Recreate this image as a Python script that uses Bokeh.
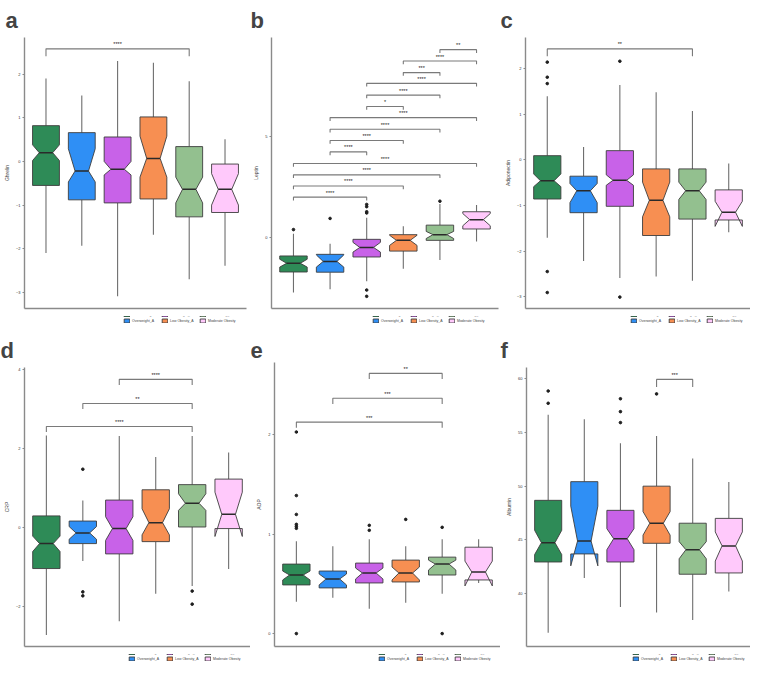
from bokeh.plotting import figure
from bokeh.models import ColumnDataSource, Range1d, FixedTicker, Legend, LegendItem
from bokeh.layouts import column, row
from bokeh.embed import file_html
from bokeh.resources import INLINE
from bokeh.core.properties import value

# ---------------- data ----------------
CLUSTERS = ["Normal weight", "Overweight_A", "Overweight_B",
            "Low Obesity_A", "Low Obesity_B", "Moderate Obesity"]
COLORS = ["#2e8b57", "#2f8ff5", "#c862e8", "#f78f52", "#93c08f", "#ffc9fb"]
LEGEND_TITLE = "CLUSTER"

ghrelin_upper = [1.90, 1.51, 2.30, 2.26, 1.84, 0.51]
ghrelin_q3 = [0.82, 0.66, 0.56, 1.02, 0.34, -0.06]
ghrelin_median = [0.20, -0.22, -0.18, 0.07, -0.64, -0.64]
ghrelin_q1 = [-0.55, -0.88, -0.95, -0.86, -1.27, -1.17]
ghrelin_lower = [-2.10, -1.93, -3.09, -1.68, -2.70, -2.39]
ghrelin_notch_hi = [0.38, 0.29, 0.00, 0.58, -0.36, -0.28]
ghrelin_notch_lo = [0.02, -0.47, -0.31, -0.36, -0.95, -1.00]
ghrelin_out_x = []
ghrelin_out_y = []
ghrelin_pairs = [(1, 5)]
ghrelin_sig_y = [2.58]
ghrelin_sig = ["****"]

leptin_upper = [0.19, -0.31, 0.97, 0.55, 1.65, 1.60]
leptin_q3 = [-0.91, -0.83, -0.09, 0.14, 0.61, 1.27]
leptin_median = [-1.27, -1.18, -0.49, -0.14, 0.14, 0.88]
leptin_q1 = [-1.70, -1.71, -0.96, -0.67, -0.14, 0.42]
leptin_lower = [-2.71, -2.55, -2.16, -1.54, -1.11, -0.20]
leptin_notch_hi = [-1.07, -0.86, -0.24, 0.11, 0.30, 1.18]
leptin_notch_lo = [-1.46, -1.46, -0.72, -0.39, -0.05, 0.58]
leptin_out_x = [1, 2, 3, 3, 3, 3, 3, 3, 5]
leptin_out_y = [0.39, 0.94, 1.63, 1.52, 1.27, 1.21, -2.59, -2.90, 1.79]
leptin_pairs = [(1, 3), (1, 4), (1, 5), (1, 6), (2, 3), (2, 4), (2, 5), (2, 6),
                (3, 4), (3, 5), (3, 6), (4, 5), (4, 6), (5, 6)]
leptin_sig_y = [1.99, 2.54, 3.09, 3.65, 4.22, 4.78, 5.34, 5.91,
                6.46, 7.02, 7.60, 8.13, 8.70, 9.26]
leptin_sig = ["****"] * 8 + ["*", "****", "****", "***", "****", "**"]

adipo_upper = [1.39, 0.28, 1.64, 1.48, 1.07, -0.08]
adipo_q3 = [0.09, -0.36, 0.20, -0.20, -0.20, -0.66]
adipo_median = [-0.46, -0.68, -0.45, -0.89, -0.68, -1.15]
adipo_q1 = [-0.86, -1.16, -1.02, -1.66, -1.30, -1.32]
adipo_lower = [-1.71, -2.22, -2.59, -2.56, -2.65, -1.59]
adipo_notch_hi = [-0.31, -0.52, -0.33, -0.49, -0.49, -0.91]
adipo_notch_lo = [-0.59, -0.94, -0.56, -1.25, -0.87, -1.46]
adipo_out_x = [1, 1, 1, 1, 1, 3, 3]
adipo_out_y = [2.14, 1.81, 1.67, -2.45, -2.91, 2.16, -3.01]
adipo_pairs = [(1, 5)]
adipo_sig_y = [2.43]
adipo_sig = ["**"]

crp_upper = [2.32, 0.68, 2.31, 1.78, 2.31, 1.89]
crp_q3 = [0.29, 0.16, 0.69, 0.95, 1.08, 1.22]
crp_median = [-0.41, -0.14, -0.03, 0.12, 0.61, 0.33]
crp_q1 = [-1.04, -0.41, -0.67, -0.36, 0.01, -0.03]
crp_lower = [-2.72, -0.85, -2.37, -1.68, -1.48, -1.05]
crp_notch_hi = [-0.22, 0.02, 0.27, 0.47, 0.85, 0.89]
crp_notch_lo = [-0.61, -0.30, -0.33, -0.19, 0.43, -0.23]
crp_out_x = [2, 2, 2, 5, 5]
crp_out_y = [1.47, -1.63, -1.73, -1.61, -1.94]
crp_pairs = [(1, 5), (2, 5), (3, 5)]
crp_sig_y = [2.55, 3.13, 3.74]
crp_sig = ["****", "**", "****"]

aop_upper = [0.93, 0.88, 0.95, 0.88, 0.95, 0.95]
aop_q3 = [0.70, 0.63, 0.71, 0.74, 0.77, 0.87]
aop_median = [0.59, 0.55, 0.61, 0.61, 0.70, 0.62]
aop_q1 = [0.49, 0.46, 0.51, 0.52, 0.59, 0.54]
aop_lower = [0.32, 0.36, 0.25, 0.31, 0.40, 0.51]
aop_notch_hi = [0.63, 0.60, 0.66, 0.67, 0.74, 0.73]
aop_notch_lo = [0.54, 0.49, 0.55, 0.54, 0.64, 0.48]
aop_out_x = [1, 1, 1, 1, 1, 1, 1, 3, 3, 4, 5, 5]
aop_out_y = [2.03, 1.39, 1.20, 1.10, 1.08, 1.06, 0.0, 1.09, 1.04, 1.15, 1.07, 0.0]
aop_pairs = [(1, 5), (2, 5), (3, 5)]
aop_sig_y = [2.13, 2.37, 2.62]
aop_sig = ["***", "***", "**"]

alb_upper = [56.64, 56.22, 53.99, 54.68, 52.58, 50.39]
alb_q3 = [48.68, 50.42, 47.75, 50.00, 46.55, 47.00]
alb_median = [44.74, 44.89, 45.11, 46.55, 44.08, 44.44]
alb_q1 = [42.94, 43.69, 42.94, 44.68, 41.80, 41.92]
alb_lower = [36.34, 41.44, 38.74, 38.23, 37.54, 40.18]
alb_notch_hi = [45.89, 48.14, 46.04, 47.63, 44.83, 45.74]
alb_notch_lo = [43.63, 42.58, 44.08, 45.44, 43.24, 43.03]
alb_out_x = [1, 1, 3, 3, 3, 4]
alb_out_y = [58.86, 57.72, 58.14, 56.94, 55.92, 58.59]
alb_pairs = [(4, 5)]
alb_sig_y = [59.94]
alb_sig = ["***"]

FONT = "Liberation Sans"
AXIS_GRAY = "#8a8a8a"
LEG_H = 14


def panel(letter, ylabel, upper, q3, med, q1, lower, nhi, nlo, out_x, out_y,
          pairs, sig_y, sig_lab, yr, yticks, tip_frac,
          width, height, left, right, top):
    p = figure(width=width, height=height - LEG_H, x_range=Range1d(0.4, 6.6),
               y_range=Range1d(yr[0], yr[1]), output_backend="svg",
               toolbar_location=None, min_border_left=left, min_border_right=right,
               min_border_top=top, min_border_bottom=8,
               outline_line_color=None)
    p.xgrid.visible = False
    p.ygrid.visible = False

    w = 0.75
    xs, ys, xc = [], [], []
    for i in range(len(CLUSTERS)):
        x = i + 1
        xc.append(x)
        xl, xr = x - w / 2, x + w / 2
        nl, nr = x - w / 4, x + w / 4
        xs.append([xl, xl, nl, xl, xl, xr, xr, nr, xr, xr])
        ys.append([q3[i], nhi[i], med[i], nlo[i], q1[i], q1[i], nlo[i], med[i], nhi[i], q3[i]])

    src = ColumnDataSource(dict(xs=xs, ys=ys, x=xc, upper=upper, q3=q3, q1=q1,
                                lower=lower, med=med,
                                ml=[x - w / 4 for x in xc], mr=[x + w / 4 for x in xc],
                                color=COLORS))
    p.segment(x0="x", y0="q3", x1="x", y1="upper", source=src,
              line_color="#6e6e6e", line_width=1.1)
    p.segment(x0="x", y0="q1", x1="x", y1="lower", source=src,
              line_color="#6e6e6e", line_width=1.1)
    p.patches(xs="xs", ys="ys", source=src, fill_color="color",
              line_color="#3d3d3d", line_width=0.9)
    p.segment(x0="ml", y0="med", x1="mr", y1="med", source=src,
              line_color="#2a2a2a", line_width=1.5)
    if out_x:
        p.scatter(x=out_x, y=out_y, size=2.6, color="#1e1e1e")

    tip = tip_frac * (yr[1] - yr[0])
    bx = [[a, a, b, b] for a, b in pairs]
    by = [[y - tip, y, y, y - tip] for y in sig_y]
    p.multi_line(xs=bx, ys=by, line_color="#7a7a7a", line_width=1.1)
    p.text(x=[(a + b) / 2 for a, b in pairs], y=sig_y, text=sig_lab,
           text_font=value(FONT), text_font_size="5.5px", text_align="center",
           text_baseline="bottom", y_offset=-1.5, text_color="#222222")

    p.yaxis.ticker = FixedTicker(ticks=yticks)
    p.yaxis.axis_label = ylabel
    p.yaxis.axis_label_text_font_size = "5px"
    p.yaxis.axis_label_text_font_style = "normal"
    p.yaxis.axis_label_standoff = 3
    p.yaxis.major_label_text_font_size = "4px"
    p.yaxis.major_label_text_color = "#333333"
    p.yaxis.major_label_standoff = 2
    p.yaxis.major_tick_out = 2
    p.yaxis.major_tick_in = 0
    p.yaxis.minor_tick_line_color = None
    p.yaxis.major_tick_line_color = AXIS_GRAY
    p.yaxis.axis_line_color = AXIS_GRAY
    p.yaxis.axis_line_width = 1.4

    p.xaxis.ticker = FixedTicker(ticks=[1, 2, 3, 4, 5, 6])
    p.xaxis.major_label_overrides = {i: " " for i in range(1, 7)}
    p.xaxis.major_label_text_font_size = "4px"
    p.xaxis.major_label_standoff = 0
    p.xaxis.major_tick_out = 0
    p.xaxis.major_tick_line_color = None
    p.xaxis.minor_tick_line_color = None
    p.xaxis.axis_line_color = AXIS_GRAY
    p.xaxis.axis_line_width = 1.4

    p.title.text = letter
    p.title.text_font_size = "22px"
    p.title.text_font_style = "bold"
    p.title.align = "left"
    p.title.offset = -left

    # legend strip under the panel (its own small figure, glyphs kept out of view)
    lf = figure(width=width, height=LEG_H, x_range=Range1d(100, 101),
                y_range=Range1d(100, 101), x_axis_type=None, y_axis_type=None,
                output_backend="svg", toolbar_location=None, min_border=0,
                outline_line_color=None)
    lboxes = lf.patches(xs="xs", ys="ys", source=src, fill_color="color",
                        line_color="#3d3d3d", line_width=0.9)
    dummy = lf.scatter(x=[], y=[], size=1, fill_alpha=0, line_alpha=0)
    order1 = [0, 2, 4]
    order2 = [1, 3, 5]
    items1 = [LegendItem(label=LEGEND_TITLE, renderers=[dummy])] + \
             [LegendItem(label=CLUSTERS[i], renderers=[lboxes], index=i) for i in order1]
    items2 = [LegendItem(label=" ", renderers=[dummy])] + \
             [LegendItem(label=CLUSTERS[i], renderers=[lboxes], index=i) for i in order2]
    common = dict(orientation="horizontal",
                  label_text_font_size="3.5px",
                  glyph_width=7, glyph_height=5, label_height=5, label_width=28,
                  label_standoff=2, spacing=1, padding=0, margin=0,
                  border_line_color=None, background_fill_alpha=0)
    lx = left + 42
    lf.add_layout(Legend(items=items1, location=(lx, 13), **common))
    lf.add_layout(Legend(items=items2, location=(lx, 7), **common))
    return column(p, lf)


pa = panel("a", "Ghrelin", ghrelin_upper, ghrelin_q3, ghrelin_median, ghrelin_q1,
           ghrelin_lower, ghrelin_notch_hi, ghrelin_notch_lo, ghrelin_out_x, ghrelin_out_y,
           ghrelin_pairs, ghrelin_sig_y, ghrelin_sig, (-3.37, 2.84), [-3, -2, -1, 0, 1, 2],
           0.027, 250, 330, 19, 4, 23)
pb = panel("b", "Leptin", leptin_upper, leptin_q3, leptin_median, leptin_q1,
           leptin_lower, leptin_notch_hi, leptin_notch_lo, leptin_out_x, leptin_out_y,
           leptin_pairs, leptin_sig_y, leptin_sig, (-3.5, 9.86), [0, 5],
           0.012, 250, 330, 21, 2, 23)
pc = panel("c", "Adiponectin", adipo_upper, adipo_q3, adipo_median, adipo_q1,
           adipo_lower, adipo_notch_hi, adipo_notch_lo, adipo_out_x, adipo_out_y,
           adipo_pairs, adipo_sig_y, adipo_sig, (-3.26, 2.68), [-3, -2, -1, 0, 1, 2],
           0.027, 250, 330, 25, 0, 23)
pd_ = panel("d", "CRP", crp_upper, crp_q3, crp_median, crp_q1,
            crp_lower, crp_notch_hi, crp_notch_lo, crp_out_x, crp_out_y,
            crp_pairs, crp_sig_y, crp_sig, (-3.01, 4.04), [-2, 0, 2, 4],
            0.02, 250, 338, 24, 0, 32)
pe = panel("e", "AOP", aop_upper, aop_q3, aop_median, aop_q1,
           aop_lower, aop_notch_hi, aop_notch_lo, aop_out_x, aop_out_y,
           aop_pairs, aop_sig_y, aop_sig, (-0.13, 2.73), [0, 1, 2],
           0.02, 250, 338, 24, 0, 32)
pf = panel("f", "Albumin", alb_upper, alb_q3, alb_median, alb_q1,
           alb_lower, alb_notch_hi, alb_notch_lo, alb_out_x, alb_out_y,
           alb_pairs, alb_sig_y, alb_sig, (35.07, 61.05), [40, 45, 50, 55, 60],
           0.027, 250, 338, 26, 0, 32)

layout = column(row(pa, pb, pc), row(pd_, pe, pf))
open("out.html", "w").write(file_html(layout, INLINE))
